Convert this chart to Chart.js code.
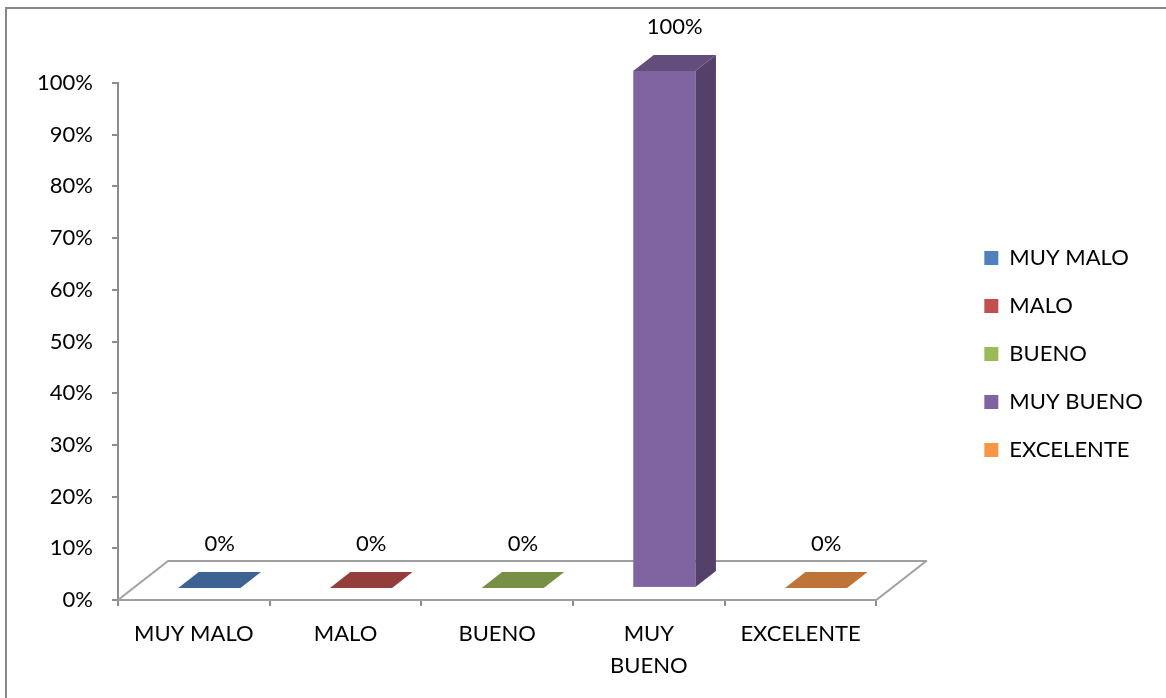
<!DOCTYPE html>
<html lang="es">
<head>
<meta charset="utf-8">
<title>Valoración</title>
<script src="https://cdn.jsdelivr.net/npm/chart.js@4.4.1/dist/chart.umd.min.js"></script>
<style>
  html, body { margin: 0; padding: 0; background: #fff; }
  #chart-box { position: relative; width: 1166px; height: 698px; }
</style>
</head>
<body>
<div id="chart-box"><canvas id="rating-chart"></canvas></div>
<script>
'use strict';

// ---- data ----
const categories = ['MUY MALO', 'MALO', 'BUENO', 'MUY BUENO', 'EXCELENTE'];
const axisLabels = ['MUY MALO', 'MALO', 'BUENO', ['MUY', 'BUENO'], 'EXCELENTE'];
const percentages = [0, 0, 0, 100, 0];
const barColors = ['#4F81BD', '#C0504D', '#9BBB59', '#8064A2', '#F79646'];

// darken a hex colour by factor f
function shade(hex, f) {
    const n = parseInt(hex.slice(1), 16);
    const r = Math.round(((n >> 16) & 255) * f);
    const g = Math.round(((n >> 8) & 255) * f);
    const b = Math.round((n & 255) * f);
    return `rgb(${r}, ${g}, ${b})`;
}

// Frame around the whole chart (left + top edge only are visible)
const chartFrame = {
    id: 'chartFrame',
    beforeDraw(chart) {
        const { ctx, width, height } = chart;
        ctx.save();
        ctx.strokeStyle = '#878787';
        ctx.lineWidth = 2;
        ctx.beginPath();
        ctx.moveTo(6, height);
        ctx.lineTo(6, 8);
        ctx.lineTo(width, 8);
        ctx.stroke();
        ctx.restore();
    }
};

// Excel-like 3D columns: floor, then front / side / top faces of each bar
const column3d = {
    id: 'column3d',
    beforeDatasetsDraw(chart, args, opts) {
        const { ctx, chartArea: a } = chart;
        const { dx, dy } = opts.depth;
        const [f0, f1] = opts.slab;

        ctx.save();
        ctx.lineJoin = 'round';

        // floor
        ctx.beginPath();
        ctx.moveTo(a.left, a.bottom);
        ctx.lineTo(a.left + dx, a.bottom + dy);
        ctx.lineTo(a.right + dx, a.bottom + dy);
        ctx.lineTo(a.right, a.bottom);
        ctx.closePath();
        ctx.fillStyle = '#fff';
        ctx.fill();
        ctx.strokeStyle = opts.floorColor;
        ctx.lineWidth = 2;
        ctx.stroke();

        const meta = chart.getDatasetMeta(0);
        meta.data.forEach((bar, i) => {
            const color = barColors[i];
            const half = bar.width / 2;
            const ox = dx * f0, oy = dy * f0;
            const bx = dx * (f1 - f0), by = dy * (f1 - f0);
            const l = bar.x - half + ox;
            const r = bar.x + half + ox;
            const top = bar.y + oy;
            const bottom = bar.base + oy;

            if (bottom - top > 0.5) {
                ctx.fillStyle = color;
                ctx.fillRect(l, top, r - l, bottom - top);

                ctx.beginPath();
                ctx.moveTo(r, top);
                ctx.lineTo(r + bx, top + by);
                ctx.lineTo(r + bx, bottom + by);
                ctx.lineTo(r, bottom);
                ctx.closePath();
                ctx.fillStyle = shade(color, opts.sideShade);
                ctx.fill();
            }

            ctx.beginPath();
            ctx.moveTo(l, top);
            ctx.lineTo(l + bx, top + by);
            ctx.lineTo(r + bx, top + by);
            ctx.lineTo(r, top);
            ctx.closePath();
            ctx.fillStyle = shade(color, opts.topShade);
            ctx.fill();
        });

        ctx.restore();
        return false; // default flat bars are replaced by the 3D ones
    },
    afterDraw(chart, args, opts) {
        const { ctx } = chart;
        const { dx, dy } = opts.depth;
        const mid = (opts.slab[0] + opts.slab[1]) / 2;
        const meta = chart.getDatasetMeta(0);

        ctx.save();
        ctx.font = '22px Lato';
        ctx.fillStyle = '#000';
        ctx.textAlign = 'center';
        ctx.textBaseline = 'middle';
        meta.data.forEach((bar, i) => {
            ctx.fillText(percentages[i] + '%', bar.x + dx * mid, bar.y + dy * mid - opts.labelLift);
        });
        ctx.restore();
    }
};

Chart.defaults.font.family = 'Lato';
Chart.defaults.font.size = 22;
Chart.defaults.color = '#000';

new Chart(document.getElementById('rating-chart'), {
    type: 'bar',
    data: {
        labels: axisLabels,
        datasets: [{
            label: 'Valoración',
            data: percentages,
            backgroundColor: barColors,
            barPercentage: 0.41,
            categoryPercentage: 1
        }]
    },
    options: {
        responsive: true,
        maintainAspectRatio: false,
        animation: false,
        events: [],
        layout: {
            padding: { top: 83, right: 16, bottom: 0, left: 0 }
        },
        scales: {
            x: {
                grid: { drawOnChartArea: false, tickLength: 6, color: '#8c8c8c', lineWidth: 2 },
                border: { color: '#8c8c8c', width: 2 },
                ticks: { padding: 12, font: { lineHeight: 1.45 } },
                afterFit(scale) { scale.height = 98; }
            },
            y: {
                min: 0,
                max: 100,
                grid: { drawOnChartArea: false, tickLength: 6, color: '#8c8c8c', lineWidth: 2 },
                border: { color: '#8c8c8c', width: 2 },
                ticks: {
                    stepSize: 10,
                    padding: 19,
                    callback: v => v + '%'
                },
                afterFit(scale) { scale.width = 118; }
            },
            // empty strip between the floor and the legend
            gap: {
                type: 'linear',
                position: 'right',
                grid: { display: false },
                border: { display: false },
                ticks: { display: false },
                afterFit(scale) { scale.width = 82; }
            }
        },
        plugins: {
            legend: {
                position: 'right',
                fullSize: false,
                // blank title only pushes the entries down a little
                title: { display: true, text: '', font: { size: 12, lineHeight: 1.2 }, padding: { top: 0, bottom: 10.6 } },
                labels: {
                    boxWidth: 14,
                    boxHeight: 14,
                    padding: 26,
                    generateLabels: () => categories.map((text, i) => ({
                        text,
                        fillStyle: barColors[i],
                        strokeStyle: barColors[i],
                        lineWidth: 0,
                        hidden: false,
                        index: i,
                        datasetIndex: 0
                    }))
                }
            },
            tooltip: { enabled: false },
            column3d: {
                depth: { dx: 50, dy: -39 },
                slab: [0.31, 0.72],
                floorColor: '#a0a0a0',
                topShade: 0.77,
                sideShade: 0.65,
                labelLift: 36
            }
        }
    },
    plugins: [chartFrame, column3d]
});
</script>
</body>
</html>
